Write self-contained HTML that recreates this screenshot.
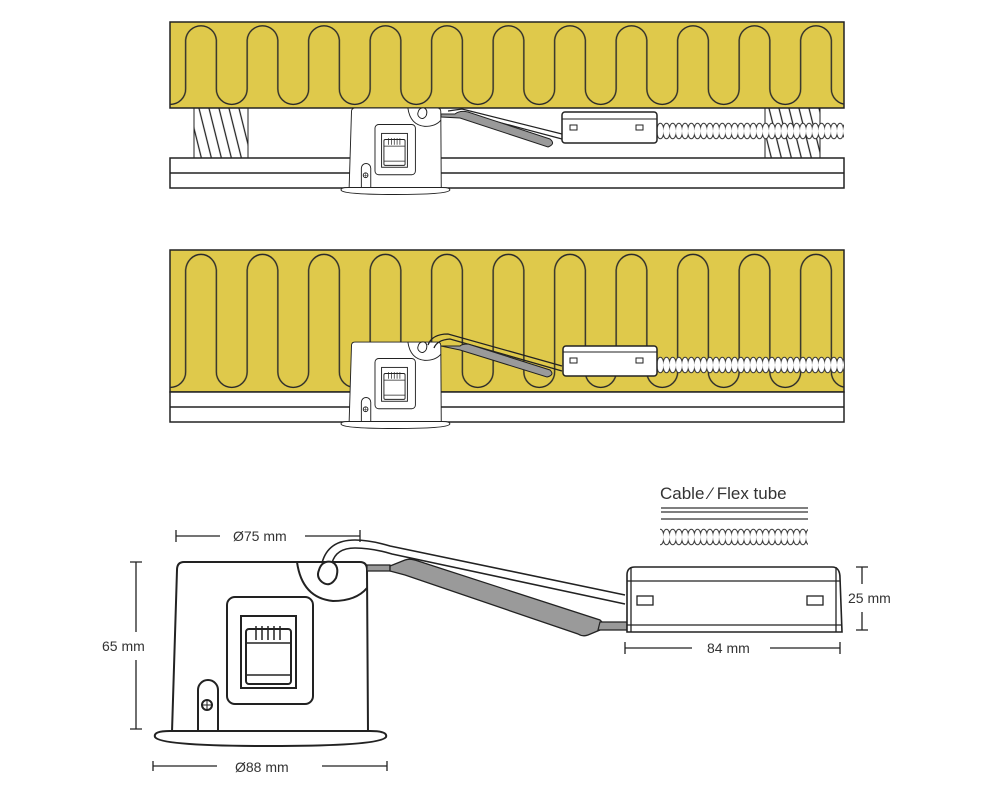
<!DOCTYPE html>
<html><head><meta charset="utf-8"><style>
html,body{margin:0;padding:0;background:#fff}
svg{display:block}
text{font-family:"Liberation Sans","DejaVu Sans",sans-serif;fill:#333}
</style></head><body>
<svg width="1000" height="800" viewBox="0 0 1000 800" xmlns="http://www.w3.org/2000/svg">
<defs>
<pattern id="w1" patternUnits="userSpaceOnUse" x="170.25" y="0" width="61.5" height="800">
<path d="M-15.4 89 A15.4 15.4 0 0 0 15.4 89 L15.4 40 A15.4 15.4 0 0 1 46.1 40 L46.1 89 A15.4 15.4 0 0 0 76.9 89" fill="none" stroke="#2a2a2a" stroke-width="1.4"/>
</pattern>
<pattern id="w2" patternUnits="userSpaceOnUse" x="170.25" y="0" width="61.5" height="800">
<path d="M-15.4 372 A15.4 15.4 0 0 0 15.4 372 L15.4 270 A15.4 17 0 0 1 46.1 270 L46.1 372 A15.4 15.4 0 0 0 76.9 372" fill="none" stroke="#2a2a2a" stroke-width="1.4"/>
</pattern>
<pattern id="flex" patternUnits="userSpaceOnUse" x="0" y="0" width="6.2" height="18">
<ellipse cx="3.1" cy="9" rx="3.6" ry="7.8" fill="#fff" stroke="#333" stroke-width="1"/>
</pattern>
<pattern id="hatch" patternUnits="userSpaceOnUse" width="10" height="50" patternTransform="skewX(14)">
<line x1="2" y1="0" x2="2" y2="50" stroke="#222" stroke-width="1.3"/>
</pattern>
<g id="body" stroke="#222" stroke-width="2" fill="#fff">
<path d="M184 562 L360 562 Q367 562 367 570 L368 732 L172 732 L177 570 Q177 562 184 562 Z"/>
<path d="M297 562 Q302 598 333 601 Q356 601 367 588" fill="none"/>
<path d="M319 570 Q322 560 332 562 Q340 566 336 578 Q330 588 322 582 Q316 577 319 570Z"/>
<rect x="227" y="597" width="86" height="107" rx="8"/>
<rect x="241" y="616" width="55" height="72" fill="none"/>
<rect x="246" y="629" width="45" height="55" rx="3" fill="none"/>
<path d="M246 643 H291 M246 675 H291 M256 626 V640 M262 626 V640 M268 626 V640 M274 626 V640 M280 626 V640" fill="none" stroke-width="1.5"/>
<path d="M198 732 V690 A10 10 0 0 1 218 690 V732" />
<circle cx="207" cy="705" r="5"/>
<path d="M203 705 H211 M207 701 V709" stroke-width="1"/>
<path d="M155 737 Q153 731 170 731 L370 731 Q388 731 386 737 Q380 746 270 746 Q160 746 155 737 Z"/>
</g>
</defs>

<!-- PANEL 1 -->
<rect x="170" y="22" width="674" height="86" fill="#dfc94b" stroke="#222" stroke-width="1.5"/>
<rect x="170" y="22" width="674" height="86" fill="url(#w1)"/>
<rect x="194" y="108" width="54" height="50" fill="url(#hatch)" stroke="#222" stroke-width="1"/>
<rect x="765" y="108" width="55" height="50" fill="url(#hatch)" stroke="#222" stroke-width="1"/>
<rect x="170" y="158" width="674" height="30" fill="#fff" stroke="#222" stroke-width="1.5"/>
<line x1="170" y1="173" x2="844" y2="173" stroke="#222" stroke-width="1.5"/>
<g transform="translate(0,122)"><rect x="657" y="0" width="187" height="18" fill="url(#flex)"/></g>
<use href="#body" transform="translate(268.3,-156.1) scale(0.47)"/>
<path d="M448 111 L462 109 L562 134" fill="none" stroke="#222" stroke-width="1.2"/>
<path d="M448 115 L464 113 L562 139" fill="none" stroke="#222" stroke-width="1.2"/>
<path d="M441 114 L455 114 Q460 110 468 112 L550 139 Q556 144 548 147 L460 118 L441 117 Z" fill="#9a9a9a" stroke="#222" stroke-width="1"/>
<rect x="562" y="112" width="95" height="31" rx="3" fill="#fff" stroke="#222" stroke-width="1.5"/>
<line x1="562" y1="119" x2="657" y2="119" stroke="#222"/>
<rect x="570" y="125" width="7" height="5" fill="none" stroke="#222"/>
<rect x="636" y="125" width="7" height="5" fill="none" stroke="#222"/>

<!-- PANEL 2 -->
<rect x="170" y="250" width="674" height="142" fill="#dfc94b" stroke="#222" stroke-width="1.5"/>
<rect x="170" y="250" width="674" height="142" fill="url(#w2)"/>
<rect x="170" y="392" width="674" height="30" fill="#fff" stroke="#222" stroke-width="1.5"/>
<line x1="170" y1="407" x2="844" y2="407" stroke="#222" stroke-width="1.5"/>
<g transform="translate(0,356)"><rect x="657" y="0" width="187" height="18" fill="url(#flex)"/></g>
<use href="#body" transform="translate(268.3,77.9) scale(0.47)"/>
<path d="M428 345 Q432 334 448 334 L562 366" fill="none" stroke="#222" stroke-width="1.3"/>
<path d="M434 348 Q437 340 450 339 L562 371" fill="none" stroke="#222" stroke-width="1.3"/>
<path d="M441 346 L460 346 Q462 344 468 344 L550 370 Q555 375 547 377 L460 350 Z" fill="#9a9a9a" stroke="#222" stroke-width="1"/>
<rect x="563" y="346" width="94" height="30" rx="3" fill="#fff" stroke="#222" stroke-width="1.5"/>
<line x1="563" y1="352" x2="657" y2="352" stroke="#222"/>
<rect x="570" y="358" width="7" height="5" fill="none" stroke="#222"/>
<rect x="636" y="358" width="7" height="5" fill="none" stroke="#222"/>

<!-- BOTTOM -->
<text x="660" y="499" font-size="17">Cable ⁄ Flex tube</text>
<path d="M661 508 H808 M661 512 H808 M661 519 H808" stroke="#333" stroke-width="1.3"/>
<g transform="translate(0,528)"><rect x="660" y="0" width="148" height="18" fill="url(#flex)"/></g>

<use href="#body"/>
<path d="M322 563 Q328 540 355 540 Q370 540 390 546 L625 595" fill="none" stroke="#222" stroke-width="1.6"/>
<path d="M332 563 Q336 548 355 548 Q372 548 392 554 L625 604" fill="none" stroke="#222" stroke-width="1.6"/>
<path d="M367 565 H390 V571 H367 Z" fill="#999" stroke="#222" stroke-width="1.2"/>
<path d="M390 566 L405 560 Q410 558 418 561 L600 620 Q607 626 600 630 L588 635 Q583 637 578 634 L405 575 L390 571 Z" fill="#9a9a9a" stroke="#222" stroke-width="1.3"/>
<path d="M600 622 H627 V630 H598 Z" fill="#999" stroke="#222" stroke-width="1.2"/>
<path d="M627 632 V575 Q627 567 635 567 L832 567 Q840 567 840 578 L842 632 Z" fill="#fff" stroke="#222" stroke-width="1.6"/>
<path d="M631 632 V567 M836 567 V632 M627 581 H840 M627 625 H842" stroke="#222" stroke-width="1.3" fill="none"/>
<rect x="637" y="596" width="16" height="9" fill="none" stroke="#222" stroke-width="1.3"/>
<rect x="807" y="596" width="16" height="9" fill="none" stroke="#222" stroke-width="1.3"/>

<g stroke="#222" stroke-width="1.3" fill="none">
<path d="M176 530 V542 M176 536 H220 M305 536 H360 M360 530 V542"/>
<path d="M130 562 H142 M136 562 V632 M136 660 V729 M130 729 H142"/>
<path d="M153 761 V771 M153 766 H217 M322 766 H387 M387 761 V771"/>
<path d="M625 642 V654 M625 648 H692 M770 648 H840 M840 642 V654"/>
<path d="M856 567 H868 M862 567 V584 M862 612 V630 M856 630 H868"/>
</g>
<text x="233" y="541" font-size="14">Ø75 mm</text>
<text x="102" y="651" font-size="14">65 mm</text>
<text x="235" y="772" font-size="14">Ø88 mm</text>
<text x="707" y="653" font-size="14">84 mm</text>
<text x="848" y="603" font-size="14">25 mm</text>
</svg>
</body></html>
